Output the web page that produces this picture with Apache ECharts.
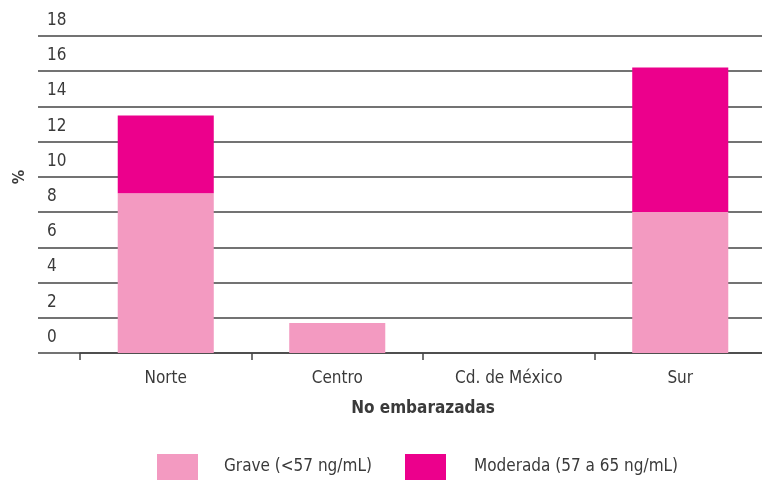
<!DOCTYPE html>
<html>
<head>
<meta charset="utf-8">
<script src="https://cdn.jsdelivr.net/npm/echarts@6/dist/echarts.min.js"></script>
<style>html,body{margin:0;padding:0;background:#fff;overflow:hidden;width:762px;height:480px;}#c{width:770px;height:480px;}</style>
</head>
<body>
<div id="c"></div>
<script>
const categories = ['Norte', 'Centro', 'Cd. de México', 'Sur'];
const graveValues = [9.07, 1.7, 0, 8.0];
const moderadaValues = [4.42, 0, 0, 8.21];
const seriesNames = ['Grave (<57 ng/mL)', 'Moderada (57 a 65 ng/mL)'];
const yTicks = [0, 2, 4, 6, 8, 10, 12, 14, 16, 18];
const xAxisTitle = 'No embarazadas';
const yAxisTitle = '%';

function hasFont(name) {
  const c = document.createElement('canvas').getContext('2d');
  const s = 'abcdefghijklmnopqrstuvwxyz0123456789 Moderada';
  c.font = '40px monospace';
  const w1 = c.measureText(s).width;
  c.font = '40px "' + name + '", monospace';
  const w2 = c.measureText(s).width;
  return Math.abs(w1 - w2) > 0.5;
}
let FONT = 'Roboto, sans-serif', FS = 17;
if (hasFont('Liberation Sans Narrow')) { FONT = '"Liberation Sans Narrow"'; FS = 20; }
else if (hasFont('DejaVu Sans Condensed')) { FONT = '"DejaVu Sans Condensed"'; FS = 17; }

const TXT = '#3a3a3a';
const LINE = '#444';
const chart = echarts.init(document.getElementById('c'), null, {renderer: 'canvas', width: 770, height: 480});
const opt = {
  backgroundColor: '#fff',
  animation: false,
  textStyle: {fontFamily: FONT},
  grid: [
    {left: 38, top: 36, width: 724, height: 317},
    {left: 80, top: 36, width: 686, height: 317}
  ],
  legend: [
    {left: 157, top: 454, padding: 0, itemWidth: 41, itemHeight: 26, icon: 'rect', data: [seriesNames[0]],
     textStyle: {fontFamily: FONT, fontSize: FS, color: TXT, padding: [0, 0, 0, 21]}},
    {left: 405, top: 454, padding: 0, itemWidth: 41, itemHeight: 26, icon: 'rect', data: [seriesNames[1]],
     textStyle: {fontFamily: FONT, fontSize: FS, color: TXT, padding: [0, 0, 0, 23]}}
  ],
  xAxis: [
    {gridIndex: 0, type: 'value', show: false, min: 0, max: 1},
    {gridIndex: 1, type: 'category', data: categories,
     axisLine: {show: true, lineStyle: {color: LINE, width: 1.5}},
     axisTick: {show: true, length: 7, lineStyle: {color: LINE, width: 1.5}},
     axisLabel: {fontFamily: FONT, fontSize: FS, color: TXT, margin: 17},
     name: xAxisTitle, nameLocation: 'middle', nameGap: 47,
     nameTextStyle: {fontFamily: FONT, fontSize: FS, fontWeight: 'bold', color: TXT}}
  ],
  yAxis: [
    {gridIndex: 0, type: 'value', min: 0, max: 18, interval: 2,
     axisLine: {show: false}, axisTick: {show: false},
     splitLine: {show: true, lineStyle: {color: LINE, width: 1.5}},
     axisLabel: {inside: true, margin: 9, color: TXT,
                 formatter: v => yTicks.includes(v) ? '{a|' + v + '}' : '',
                 rich: {a: {fontFamily: FONT, fontSize: FS, color: TXT, padding: [0, 0, 31, 0]}}},
     name: yAxisTitle, nameLocation: 'middle', nameRotate: 90, nameGap: 10,
     nameTextStyle: {fontFamily: FONT, fontSize: FS - 1, fontWeight: 'bold', color: TXT, padding: [0, 0, 0, 35]}},
    {gridIndex: 1, type: 'value', min: 0, max: 18, interval: 2, show: false, splitLine: {show: false}}
  ],
  series: [
    {name: seriesNames[0], type: 'bar', stack: 'a', xAxisIndex: 1, yAxisIndex: 1,
     data: graveValues, barWidth: '56%', itemStyle: {color: '#F39AC1'}},
    {name: seriesNames[1], type: 'bar', stack: 'a', xAxisIndex: 1, yAxisIndex: 1,
     data: moderadaValues, barWidth: '56%', itemStyle: {color: '#EC008C'}}
  ]
};
chart.setOption(opt);
</script>
</body>
</html>
